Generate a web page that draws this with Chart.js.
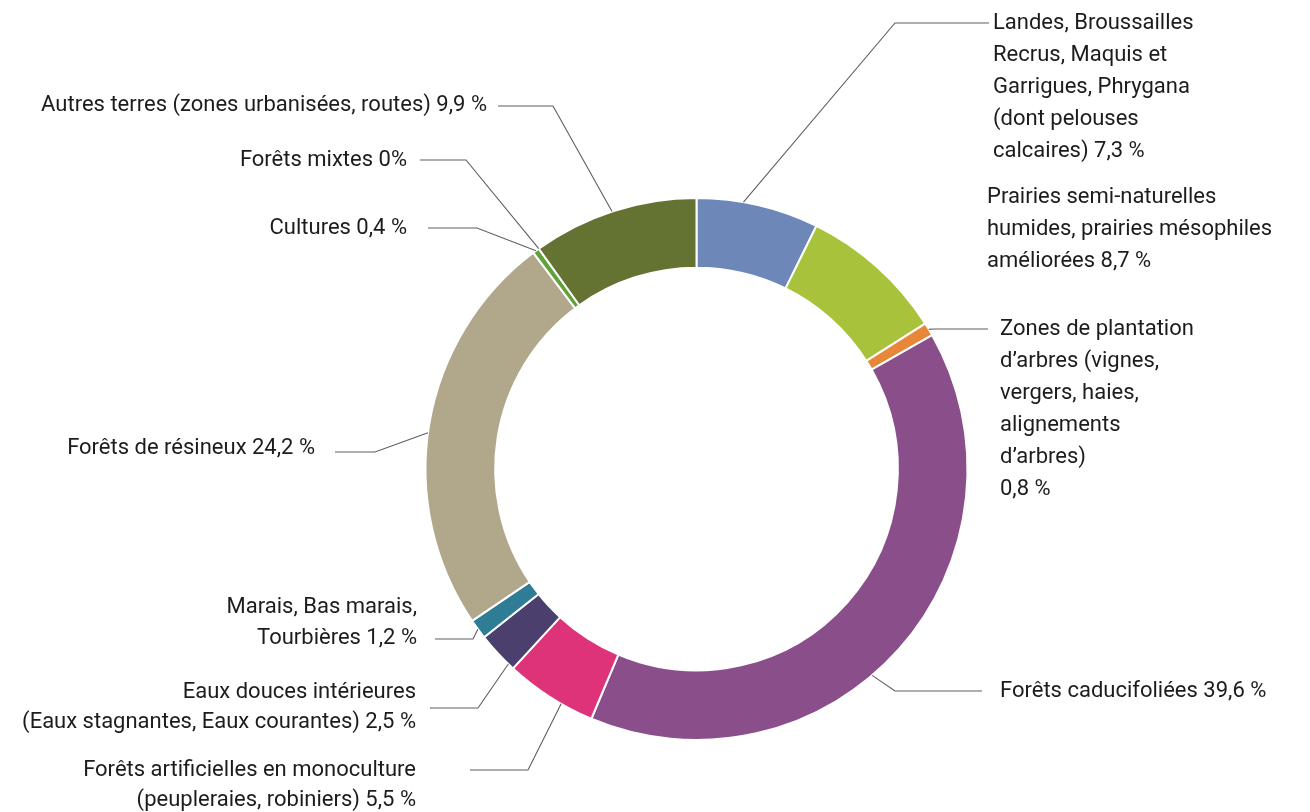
<!DOCTYPE html>
<html>
<head>
<meta charset="utf-8">
<script src="https://cdn.jsdelivr.net/npm/chart.js@4.4.1/dist/chart.umd.min.js"></script>
<style>
  html, body { margin: 0; padding: 0; background: #ffffff; }
  #wrap { width: 1310px; height: 812px; position: relative; }
</style>
</head>
<body>
<div id="wrap"><canvas id="c" width="1310" height="812"></canvas></div>
<script>
// ---- Data ----
const categories = [
  "Landes, Broussailles Recrus, Maquis et Garrigues, Phrygana (dont pelouses calcaires)",
  "Prairies semi-naturelles humides, prairies mésophiles améliorées",
  "Zones de plantation d'arbres (vignes, vergers, haies, alignements d'arbres)",
  "Forêts caducifoliées",
  "Forêts artificielles en monoculture (peupleraies, robiniers)",
  "Eaux douces intérieures (Eaux stagnantes, Eaux courantes)",
  "Marais, Bas marais, Tourbières",
  "Forêts de résineux",
  "Cultures",
  "Forêts mixtes",
  "Autres terres (zones urbanisées, routes)"
];
const values = [7.3, 8.7, 0.8, 39.6, 5.5, 2.5, 1.2, 24.2, 0.4, 0, 9.9];
const labelLines = [
  ["Landes, Broussailles", "Recrus, Maquis et", "Garrigues, Phrygana", "(dont pelouses", "calcaires) 7,3 %"],
  ["Prairies semi-naturelles", "humides, prairies mésophiles", "améliorées 8,7 %"],
  ["Zones de plantation", "d\u2019arbres (vignes,", "vergers, haies,", "alignements", "d\u2019arbres)", "0,8 %"],
  ["Forêts caducifoliées 39,6 %"],
  ["Forêts artificielles en monoculture", "(peupleraies, robiniers) 5,5 %"],
  ["Eaux douces intérieures", "(Eaux stagnantes, Eaux courantes) 2,5 %"],
  ["Marais, Bas marais,", "Tourbières 1,2 %"],
  ["Forêts de résineux 24,2 %"],
  ["Cultures 0,4 %"],
  ["Forêts mixtes 0%"],
  ["Autres terres (zones urbanisées, routes) 9,9 %"]
];

// ---- Styles ----
const colors = ["#6d88b8", "#a9c23c", "#e8873a", "#8a4e8a", "#de3379", "#4b3f6e",
                "#2e7d95", "#b1a78b", "#5fa23a", "#8cc63f", "#647232"];

// ---- Label layout (pixels) ----
const labelLayout = [
  { frac: 0.38, elbow: [895, 23],  endX: 989, tx: 993,  align: "left",  ty: 23,  lh: 32, line: true },
  { frac: 0.5,  elbow: null,       endX: null, tx: 987, align: "left",  ty: 197, lh: 32, line: false },
  { frac: 0.5,  elbow: [934, 329], endX: 988, tx: 1000, align: "left",  ty: 329, lh: 32, line: true },
  { frac: 0.556,elbow: [895, 691], endX: 982, tx: 1000, align: "left",  ty: 691, lh: 32, line: true },
  { frac: 0.36, elbow: [528, 770], endX: 470, tx: 416,  align: "right", ty: 770, lh: 30, line: true },
  { frac: 0.15, elbow: [478, 708], endX: 430, tx: 416,  align: "right", ty: 692, lh: 30, line: true },
  { frac: 0.5,  elbow: [473, 639], endX: 435, tx: 417,  align: "right", ty: 607, lh: 31, line: true },
  { frac: 0.48, elbow: [375, 452], endX: 335, tx: 315,  align: "right", ty: 448, lh: 30, line: true },
  { frac: 0.5,  elbow: [477, 228], endX: 428, tx: 407,  align: "right", ty: 228, lh: 30, line: true },
  { frac: 0.5,  elbow: [466, 160], endX: 420, tx: 407,  align: "right", ty: 160, lh: 30, line: true },
  { frac: 0.49, elbow: [553, 106], endX: 498, tx: 487,  align: "right", ty: 105, lh: 30, line: true }
];

const labelPlugin = {
  id: "leaderLabels",
  afterDraw(chart) {
    const ctx = chart.ctx;
    const meta = chart.getDatasetMeta(0);
    ctx.save();
    ctx.font = "400 22px Roboto, 'Open Sans', sans-serif";
    ctx.fillStyle = "#1c1c1c";
    ctx.textBaseline = "middle";
    meta.data.forEach((arc, i) => {
      const L = labelLayout[i];
      const p = arc.getProps(["x", "y", "startAngle", "endAngle", "outerRadius"], true);
      if (L.line) {
        const a = p.startAngle + L.frac * (p.endAngle - p.startAngle);
        const ax = p.x + Math.cos(a) * p.outerRadius;
        const ay = p.y + Math.sin(a) * p.outerRadius;
        ctx.beginPath();
        ctx.strokeStyle = "#5f5f5f";
        ctx.lineWidth = 1.1;
        ctx.moveTo(ax, ay);
        ctx.lineTo(L.elbow[0], L.elbow[1]);
        ctx.lineTo(L.endX, L.elbow[1]);
        ctx.stroke();
      }
      ctx.textAlign = L.align;
      labelLines[i].forEach((t, k) => {
        ctx.fillText(t, L.tx, L.ty + k * L.lh);
      });
    });
    ctx.restore();
  }
};

new Chart(document.getElementById("c"), {
  type: "doughnut",
  data: {
    labels: categories,
    datasets: [{
      data: values,
      backgroundColor: colors,
      borderColor: "#ffffff",
      borderWidth: 2
    }]
  },
  options: {
    responsive: false,
    animation: false,
    cutout: "74.3%",
    layout: { padding: { left: 424, right: 341, top: 197, bottom: 71 } },
    plugins: { legend: { display: false }, tooltip: { enabled: false } }
  },
  plugins: [labelPlugin]
});
</script>
</body>
</html>
